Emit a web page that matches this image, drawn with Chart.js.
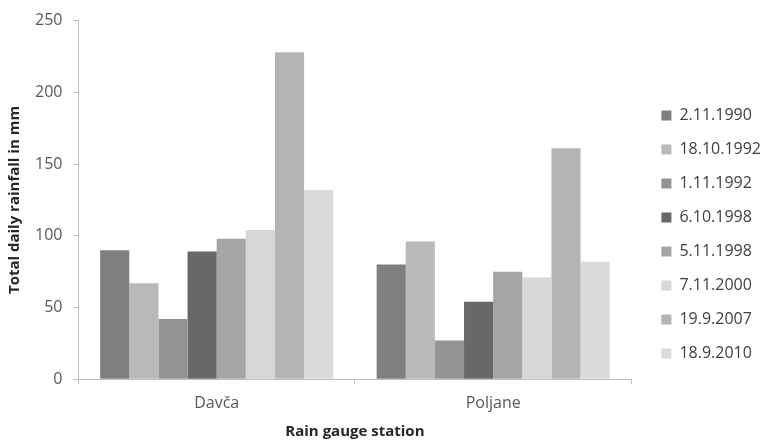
<!DOCTYPE html>
<html>
<head>
<meta charset="utf-8">
<script src="https://cdn.jsdelivr.net/npm/chart.js@4"></script>
<style>
  html, body { margin: 0; padding: 0; background: #fff; }
  #wrap { width: 764px; height: 440px; }
</style>
</head>
<body>
<div id="wrap"><canvas id="rainChart"></canvas></div>
<script>
const stations = ['Davča', 'Poljane']
const eventDates = ['2.11.1990', '18.10.1992', '1.11.1992', '6.10.1998', '5.11.1998', '7.11.2000', '19.9.2007', '18.9.2010']
const davcaRain = [90, 67, 42, 89, 98, 104, 228, 132]
const poljaneRain = [80, 96, 27, 54, 75, 71, 161, 82]
const barColors = ['#7f7f7f', '#b9b9b9', '#939393', '#686868', '#a5a5a5', '#d7d7d7', '#b4b4b4', '#dadada']

const datasets = eventDates.map((d, i) => ({
    label: d,
    data: [davcaRain[i], poljaneRain[i]],
    backgroundColor: barColors[i],
    borderWidth: 0
}))

// nudge the legend away from the plot area
const legendShift = {
    id: 'legendShift',
    afterLayout(chart) {
        const lg = chart.legend
        lg.left += 12
        lg.right += 12
        lg.top += 10
        lg.bottom += 10
    }
}

const axisGrey = '#bfbfbf'
const textGrey = '#595959'

const configBar = {
    type: 'bar',
    data: { labels: stations, datasets: datasets },
    plugins: [legendShift],
    options: {
        responsive: true,
        maintainAspectRatio: false,
        animation: false,
        layout: { padding: { top: 9, left: 0, right: 5, bottom: 0 } },
        datasets: {
            bar: { categoryPercentage: 0.843, barPercentage: 1 }
        },
        scales: {
            x: {
                grid: { drawOnChartArea: false, color: axisGrey, tickLength: 5 },
                border: { color: axisGrey },
                ticks: { color: textGrey, padding: 10, font: { family: 'Open Sans', size: 16 } },
                title: {
                    display: true,
                    text: 'Rain gauge station',
                    color: '#262626',
                    font: { family: 'Open Sans', size: 15, weight: 'bold', lineHeight: 1.1 },
                    padding: { top: 0, bottom: 0 }
                }
            },
            y: {
                min: 0,
                max: 250,
                grid: { drawOnChartArea: false, color: axisGrey, tickLength: 5 },
                border: { color: axisGrey },
                ticks: { stepSize: 50, color: textGrey, padding: 11, font: { family: 'Open Sans', size: 16 } },
                title: {
                    display: true,
                    text: 'Total daily rainfall in mm',
                    color: '#262626',
                    font: { family: 'Open Sans', size: 15, weight: 'bold' },
                    padding: { top: 6, bottom: 0 }
                }
            }
        },
        plugins: {
            legend: {
                position: 'right',
                labels: {
                    boxWidth: 10,
                    boxHeight: 10,
                    padding: 18,
                    color: '#404040',
                    font: { family: 'Open Sans', size: 16 }
                }
            },
            tooltip: { enabled: false }
        }
    }
}

let rainChart = new Chart(document.getElementById('rainChart'), configBar)
</script>
</body>
</html>
